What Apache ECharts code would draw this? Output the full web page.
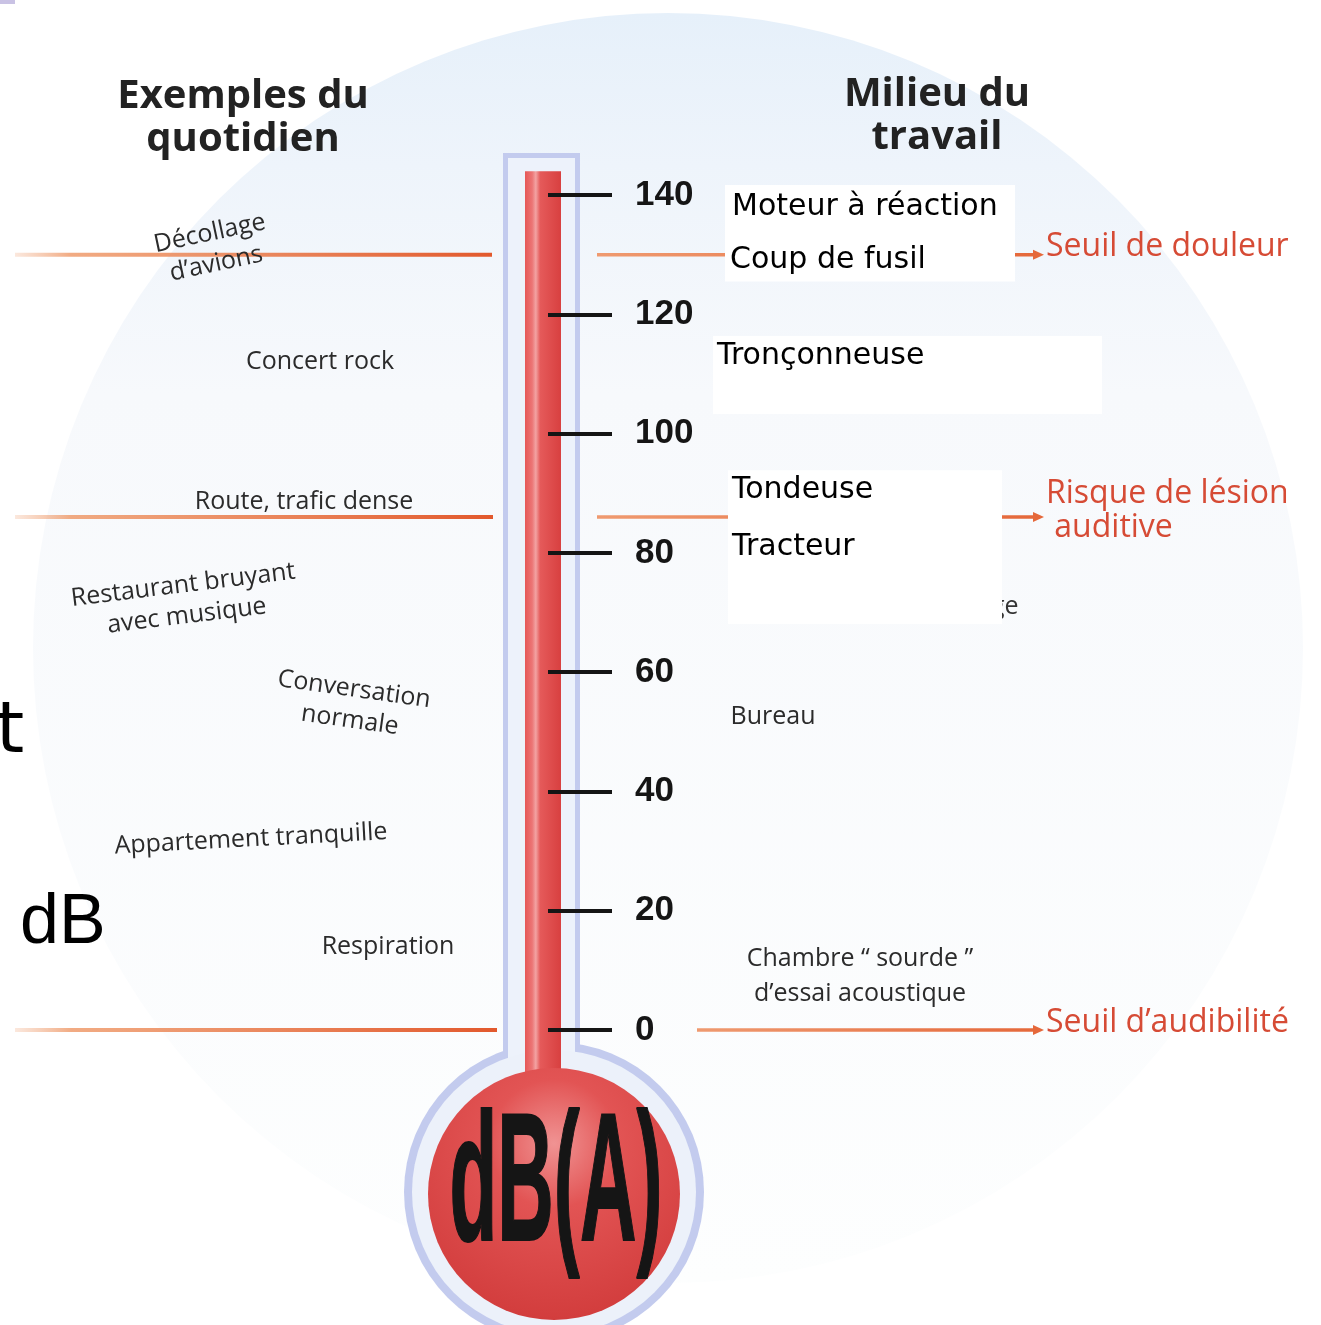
<!DOCTYPE html>
<html><head><meta charset="utf-8">
<script src="https://cdn.jsdelivr.net/npm/echarts@6/dist/echarts.min.js"></script>
<style>html,body{margin:0;padding:0;background:#fff}#c{width:1321px;height:1325px}</style>
</head><body><div id="c"></div>
<script>
// ---- data ----
const tickValues = [0, 20, 40, 60, 80, 100, 120, 140];
const mercuryLevel = [144];
const dailyLabels = ['Décollage\nd’avions', 'Concert rock', 'Route, trafic dense', 'Restaurant bruyant\navec musique', 'Conversation\nnormale', 'Appartement tranquille', 'Respiration'];
const dailyLevels = [131, 112, 88.5, 72, 54.5, 32, 14];
const workLabels = ['Moteur à réaction', 'Coup de fusil', 'Tronçonneuse', 'Tondeuse', 'Tracteur'];
const workLevels = [138, 129, 113, 90.5, 81];
const workNotes = ['Bureau', 'Chambre “ sourde ”\nd’essai acoustique'];
const workNoteLevels = [52.5, 9];
const thresholdNames = ['Seuil de douleur', 'Risque de lésion\n auditive', 'Seuil d’audibilité'];
const thresholdLevels = [130, 86, 0];

// ---- layout / style (not data) ----
const dailyLayout = [{x:213,rot:12},{x:320,rot:0},{x:304,rot:0},{x:185,rot:7},{x:352,rot:-8},{x:251,rot:3},{x:388,rot:0}];
const workLayout = [
  {x:732, bx0:725, bx1:1015, up:22, down:35},
  {x:730, bx0:725, bx1:1015, up:22, down:21},
  {x:717, bx0:713, bx1:1102, up:20, down:58},
  {x:732, bx0:728, bx1:1002, up:20, down:30},
  {x:732, bx0:728, bx1:1002, up:28, down:77}
];
const noteLayout = [{x:773},{x:860}];
const thresholdLayout = [{lx1:492, rx0:597, dy:-8},{lx1:493, rx0:597, dy:-6},{lx1:497, rx0:697, dy:-7}];

const LG = echarts.graphic.LinearGradient, RG = echarts.graphic.RadialGradient;
const chart = echarts.init(document.getElementById('c'));
const pair = arr => arr.map((v, i) => [i, v]);
const labelFont = "'Open Sans', 'Noto Sans', sans-serif";

const option = {
  backgroundColor: '#ffffff',
  animation: false,
  grid: [
    {left: 0, right: 0, top: 195, bottom: 295},
    {left: 548, width: 170, top: 195, bottom: 295}
  ],
  xAxis: [
    {type: 'value', min: 0, max: 1321, show: false, gridIndex: 0},
    {type: 'value', min: 0, max: 1, show: false, gridIndex: 1}
  ],
  yAxis: [
    {type: 'value', min: 0, max: 140, show: false, gridIndex: 0},
    {type: 'value', gridIndex: 1, min: 0, max: 140, interval: 20, position: 'left', z: 10,
     axisLine: {show: false},
     axisTick: {show: true, inside: true, length: 64, lineStyle: {color: '#151515', width: 4}},
     axisLabel: {inside: true, margin: 87, fontSize: 35, fontWeight: 'bold', color: '#151515',
                 fontFamily: "'Liberation Sans', Arial, sans-serif",
                 formatter: v => tickValues.includes(v) ? String(v) : ''},
     splitLine: {show: false}}
  ],
  graphic: {elements: [
    // background faint circle
    {type: 'circle', z: -20, shape: {cx: 668, cy: 648, r: 635},
     style: {fill: new LG(0, 0, 0, 1, [{offset: 0, color: '#e6f0fa'}, {offset: 0.12, color: '#eef4fb'}, {offset: 0.3, color: '#f7f9fc'}, {offset: 1, color: '#fdfefe'}])}},
    {type: 'rect', z: -19, shape: {x: 0, y: 0, width: 15, height: 4}, style: {fill: '#c9c2e4'}},
    // headings
    {type: 'text', z: 5, x: 243, y: 118, style: {text: 'Exemples du\nquotidien', align: 'center', verticalAlign: 'middle', fontSize: 40, lineHeight: 43, fontWeight: 'bold', fontFamily: labelFont, fill: '#222'}},
    {type: 'text', z: 5, x: 937, y: 116, style: {text: 'Milieu du\ntravail', align: 'center', verticalAlign: 'middle', fontSize: 40, lineHeight: 43, fontWeight: 'bold', fontFamily: labelFont, fill: '#222'}},
    // stray fragments
    {type: 'text', z: 5, x: -4, y: 733, style: {text: 't', align: 'left', verticalAlign: 'middle', fontSize: 72, fontFamily: "'DejaVu Sans', sans-serif", fill: '#000'}},
    {type: 'text', z: 5, x: 20, y: 924, style: {text: 'dB', align: 'left', verticalAlign: 'middle', fontSize: 70, fontFamily: "'Liberation Sans', sans-serif", fill: '#000'}},
    {type: 'text', z: 1, x: 991, y: 607, style: {text: 'ge', align: 'left', verticalAlign: 'middle', fontSize: 25, fontFamily: labelFont, fill: '#333'}},
    // thermometer glass
    {type: 'rect', z: 0, shape: {x: 503, y: 153, width: 77, height: 930}, style: {fill: '#c3cbee'}},
    {type: 'circle', z: 0, shape: {cx: 554, cy: 1192, r: 150}, style: {fill: '#c3cbee'}},
    {type: 'rect', z: 0, shape: {x: 508, y: 158, width: 67, height: 930}, style: {fill: '#edf2fb'}},
    {type: 'circle', z: 0, shape: {cx: 554, cy: 1192, r: 142}, style: {fill: '#ecf1fa'}},
    {type: 'circle', z: 3, shape: {cx: 554, cy: 1194, r: 126},
     style: {fill: new RG(0.5, 0.3, 0.85, [{offset: 0, color: '#f09393'}, {offset: 0.3, color: '#e25454'}, {offset: 0.8, color: '#d33e3e'}, {offset: 1, color: '#c23232'}])}},
    {type: 'text', z: 30, x: 556, y: 1190, scaleX: 0.43, style: {text: 'dB(A)', align: 'center', verticalAlign: 'middle', fontSize: 182, fontWeight: 'bold', fontFamily: "'Liberation Sans', sans-serif", fill: '#151515', stroke: '#151515', lineWidth: 2}}
  ]},
  series: [
    {type: 'custom', name: 'mercury', xAxisIndex: 0, yAxisIndex: 0, z: 2, data: pair(mercuryLevel),
     renderItem: (params, api) => {
       const top = api.coord([0, api.value(1)])[1];
       const bottom = 1100;
       return {type: 'rect', shape: {x: 525, y: top, width: 36, height: bottom - top},
         style: {fill: new LG(0, 0, 1, 0, [{offset: 0, color: '#e65757'}, {offset: 0.2, color: '#ec7676'}, {offset: 0.3, color: '#f3a3a3'}, {offset: 0.42, color: '#e55a5a'}, {offset: 1, color: '#d84040'}])}};
     }},
    {type: 'custom', name: 'thresholds', xAxisIndex: 0, yAxisIndex: 0, z: 3, data: pair(thresholdLevels),
     renderItem: (params, api) => {
       const i = params.dataIndex, L = thresholdLayout[i];
       const y = api.coord([0, api.value(1)])[1];
       return {type: 'group', children: [
         {type: 'line', shape: {x1: 15, y1: y, x2: L.lx1, y2: y},
          style: {lineWidth: 4, stroke: new LG(0, 0, 1, 0, [{offset: 0, color: 'rgba(240,170,130,0.25)'}, {offset: 0.12, color: 'rgba(238,150,100,0.8)'}, {offset: 1, color: '#e2582c'}])}},
         {type: 'line', shape: {x1: L.rx0, y1: y, x2: 1036, y2: y},
          style: {lineWidth: 3.5, stroke: new LG(0, 0, 1, 0, [{offset: 0, color: '#ef9a70'}, {offset: 1, color: '#e5683a'}])}},
         {type: 'polygon', shape: {points: [[1044, y], [1033, y - 5], [1033, y + 5]]}, style: {fill: '#e5683a'}},
         {type: 'text', x: 1046, y: y + L.dy, style: {text: thresholdNames[i], align: 'left', verticalAlign: 'middle', fontSize: 32, lineHeight: 34, fontFamily: labelFont, fill: '#d64b35'}}
       ]};
     }},
    {type: 'custom', name: 'daily', xAxisIndex: 0, yAxisIndex: 0, z: 4, data: pair(dailyLevels),
     renderItem: (params, api) => {
       const i = params.dataIndex, L = dailyLayout[i];
       const y = api.coord([0, api.value(1)])[1];
       return {type: 'text', x: L.x, y: y, rotation: L.rot * Math.PI / 180,
         style: {text: dailyLabels[i], align: 'center', verticalAlign: 'middle', fontSize: 25, lineHeight: 31, fontFamily: labelFont, fill: '#2b2b2b'}};
     }},
    {type: 'custom', name: 'work', xAxisIndex: 0, yAxisIndex: 0, z: 5, data: pair(workLevels),
     renderItem: (params, api) => {
       const i = params.dataIndex, L = workLayout[i];
       const y = api.coord([0, api.value(1)])[1];
       return {type: 'group', children: [
         {type: 'rect', shape: {x: L.bx0, y: y - L.up, width: L.bx1 - L.bx0, height: L.up + L.down}, style: {fill: '#ffffff'}},
         {type: 'text', x: L.x, y: y, style: {text: workLabels[i], align: 'left', verticalAlign: 'middle', fontSize: 30, fontFamily: "'DejaVu Sans', sans-serif", fill: '#000'}}
       ]};
     }},
    {type: 'custom', name: 'notes', xAxisIndex: 0, yAxisIndex: 0, z: 5, data: pair(workNoteLevels),
     renderItem: (params, api) => {
       const i = params.dataIndex, L = noteLayout[i];
       const y = api.coord([0, api.value(1)])[1];
       return {type: 'text', x: L.x, y: y,
         style: {text: workNotes[i], align: 'center', verticalAlign: 'middle', fontSize: 25, lineHeight: 35, fontFamily: labelFont, fill: '#2b2b2b'}};
     }},
    {type: 'scatter', xAxisIndex: 1, yAxisIndex: 1, data: [], silent: true}
  ]
};
chart.setOption(option);
</script>
</body></html>
